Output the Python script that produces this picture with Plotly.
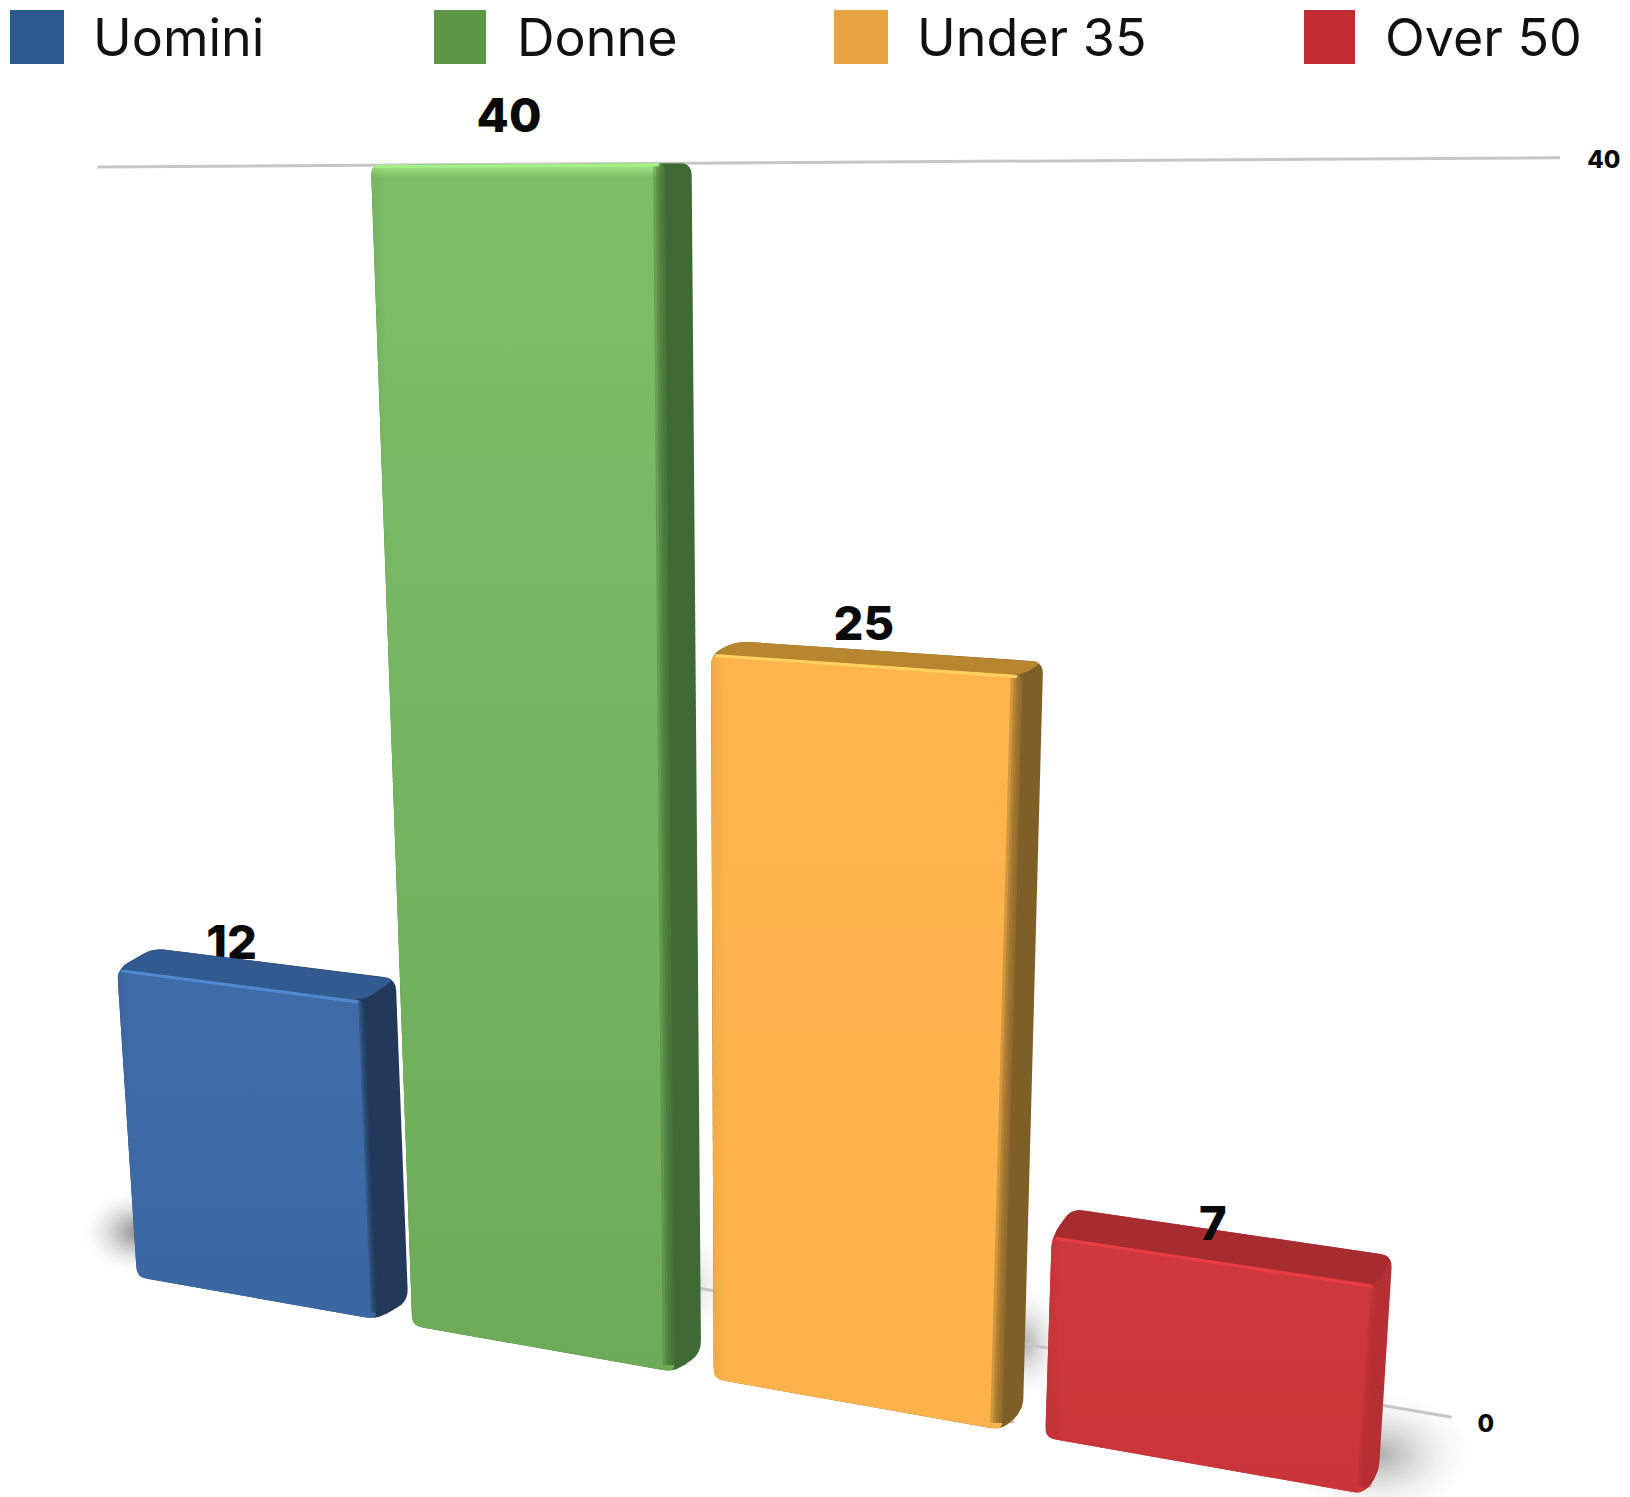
import numpy as np
import plotly.graph_objects as go

# ---- data ----
categories = ["Uomini", "Donne", "Under 35", "Over 50"]
values = [12, 40, 25, 7]
tick_values = [0, 40]
tick_labels = ["0", "40"]

# ---- style ----
legend_colors = ["#2d5a8e", "#5e9648", "#e7a33f", "#c02c30"]
front_top = ["#3f6ba8", "#7dbe66", "#feb54c", "#cf383c"]
front_bottom = ["#3b68a2", "#6dab59", "#fdb24a", "#c93538"]
top_colors = ["#305a90", "#8fd676", "#b8862e", "#a72c30"]
side_colors = ["#22395a", "#3f6a33", "#7f5f28", "#b52f33"]
high_colors = ["#4f88d0", "#a6f088", "#ffd25e", "#e83c40"]
flank_soft = [0.5, 1.0, 1.0, 0.6]
legend_x = [10, 434, 834, 1304]
legend_w = [54, 52, 54, 51]
legend_text_x = [91, 515, 915, 1383]
label_on_top = [False, True, True, True]
label_dx = [-9, -9, -3, -2]
label_dy = [-38, -44, -36, -33]

# ---- projection: value plane of the picture (slot position, value) -> page ----
VMAX = 40.0
PLANE = [(137, 1277), (1370, 1495), (1459.5, 158), (65.5, 167)]
SLOT = 0.257
BAR = 0.225
DEPTH_X, DEPTH_Y = 0.017, 0.026
VP = (2225, 161)


def make_h(q):
    (x0, y0), (x1, y1), (x2, y2), (x3, y3) = q
    dx1, dx2, sx = x1 - x2, x3 - x2, x0 - x1 + x2 - x3
    dy1, dy2, sy = y1 - y2, y3 - y2, y0 - y1 + y2 - y3
    den = dx1 * dy2 - dx2 * dy1
    g = (sx * dy2 - dx2 * sy) / den
    h = (dx1 * sy - sx * dy1) / den
    return (x1 - x0 + g * x1, x3 - x0 + h * x3, x0, y1 - y0 + g * y1, y3 - y0 + h * y3, y0, g, h)


H = make_h(PLANE)


def project(s, v, d=0.0):
    a, b, c, e, f, k, g, h = H
    t = v / VMAX
    w = 1 + g * s + h * t
    x = (a * s + b * t + c) / w
    y = (e * s + f * t + k) / w
    return (x + d * DEPTH_X * (VP[0] - x), y + d * DEPTH_Y * (VP[1] - y))


def rounded(pts, r=10, n=6):
    out = []
    m = len(pts)
    for i in range(m):
        p = np.array(pts[i], float)
        a = np.array(pts[i - 1], float)
        b = np.array(pts[(i + 1) % m], float)
        ra = min(r, np.linalg.norm(a - p) / 2)
        rb = min(r, np.linalg.norm(b - p) / 2)
        p0 = p + (a - p) / np.linalg.norm(a - p) * ra
        p1 = p + (b - p) / np.linalg.norm(b - p) * rb
        for u in np.linspace(0, 1, n):
            out.append(tuple((1 - u) ** 2 * p0 + 2 * u * (1 - u) * p + u ** 2 * p1))
    out.append(out[0])
    return out


def poly(pts, color=None, gradient=None):
    xs, ys = zip(*pts)
    kw = dict(fillgradient=gradient) if gradient else dict(fillcolor=color)
    return go.Scatter(x=list(xs), y=list(ys), mode="lines", fill="toself",
                      line=dict(width=0), hoverinfo="skip", showlegend=False, **kw)


def glow(cx, cy, rx, ry, alpha, steps=30):
    th = np.linspace(0, 2 * np.pi, 60)
    res = []
    for i in range(steps):
        f = 1 - i / steps
        a = alpha * (2 * i / steps + 0.05)
        res.append(go.Scatter(x=cx + rx * f * np.cos(th), y=cy + ry * f * np.sin(th), mode="lines",
                              fill="toself", fillcolor=f"rgba(0,0,0,{a:.4f})", line=dict(width=0),
                              hoverinfo="skip", showlegend=False))
    return res


def label(xy, text, size):
    return go.Scatter(x=[xy[0]], y=[xy[1]], mode="text", text=[text],
                      textposition="middle center",
                      textfont=dict(family="Inter", size=size, color="#0a0a0a", weight=800),
                      hoverinfo="skip", showlegend=False)


fig = go.Figure()

# ground shadows, anchored on the bars' feet
foot = project(0, 0)
for tr in glow(foot[0] + 2, foot[1] - 45, 60, 44, 0.017):
    fig.add_trace(tr)
foot = project(3 * SLOT + BAR, 0, 1)
for tr in glow(foot[0], foot[1] - 5, 100, 68, 0.011):
    fig.add_trace(tr)
for i, a in enumerate([0.004, 0.010]):
    foot = project((i + 2) * SLOT - 0.015, 0)
    for tr in glow(foot[0], foot[1] - 92, 46, 62, a):
        fig.add_trace(tr)

# gridlines on the back wall
GRID_DEPTH_X, GRID_DEPTH_Y = 2.05, 2.5
grid_span = {0: (0.25, 1.036), 40: (-0.04, 1.044)}
tick_offset = {0: (34, 9), 40: (44, 4)}


def back(s, v):
    return (project(s, v, GRID_DEPTH_X)[0], project(s, v, GRID_DEPTH_Y)[1])


for val, txt in zip(tick_values, tick_labels):
    s0, s1 = grid_span[val]
    a, b = back(s0, val), back(s1, val)
    fig.add_trace(go.Scatter(x=[a[0], b[0]], y=[a[1], b[1]], mode="lines",
                             line=dict(color="#c6c6c6", width=3), hoverinfo="skip", showlegend=False))
    dx, dy = tick_offset[val]
    fig.add_trace(label((b[0] + dx, b[1] + dy), txt, 24))


def bar_label(i, s0, s1, v):
    a, b = project(s0, v), project(s1, v)
    return label(((a[0] + b[0]) / 2 + label_dx[i], (a[1] + b[1]) / 2 + label_dy[i]), str(values[i]), 47)


for i, v in enumerate(values):
    s0, s1 = i * SLOT, i * SLOT + BAR
    BL, BR, TR, TL = project(s0, 0), project(s1, 0), project(s1, v), project(s0, v)
    bTL, bTR = project(s0, v, 1), project(s1, v, 1)
    bBR = (project(s1, 0, 1)[0], project(s1, 0, 0.6)[1])
    if not label_on_top[i]:
        fig.add_trace(bar_label(i, s0, s1, v))
    # silhouette, right flank, top
    fig.add_trace(poly(rounded([BL, BR, bBR, bTR, bTL, TL], 12), side_colors[i]))
    fig.add_trace(poly(rounded([TL, bTL, bTR, TR], 11), top_colors[i]))
    # front face: vertical light falloff, then a soft darkened left rim
    face = rounded([BL, BR, TR, TL], 9)
    ymin, ymax = min(TL[1], TR[1]), max(BL[1], BR[1])
    scale = [[0, front_top[i]], [1, front_bottom[i]]]
    if v == max(values):
        scale = [[0, high_colors[i]], [0.012, front_top[i]], [1, front_bottom[i]]]
    fig.add_trace(poly(face, gradient=dict(type="vertical", start=ymin, stop=ymax, colorscale=scale)))
    xmin, xmax = min(BL[0], TL[0]), max(BR[0], TR[0])
    fig.add_trace(poly(face, gradient=dict(
        type="horizontal", start=xmin, stop=xmax,
        colorscale=[[0, "rgba(0,0,0,0.06)"], [0.05, "rgba(0,0,0,0)"], [1, "rgba(0,0,0,0)"]])))
    # soft blend of the front face into the flank: stacked strokes along the shared edge
    ex = [TR[0], BR[0]]
    ey = [TR[1] + 1, BR[1] - 7]
    for w in (24, 18, 13, 8, 3):
        fig.add_trace(go.Scatter(x=ex, y=ey, mode="lines", opacity=0.33,
                                 line=dict(color=side_colors[i], width=w * flank_soft[i]),
                                 hoverinfo="skip", showlegend=False))
    # lit bevel along the top of the front face
    fig.add_trace(go.Scatter(x=[TL[0] + 4, TR[0] - 6], y=[TL[1] + 1.5, TR[1] + 1.5], mode="lines",
                             line=dict(color=high_colors[i], width=3), hoverinfo="skip", showlegend=False))
    if label_on_top[i]:
        fig.add_trace(bar_label(i, s0, s1, v))

shapes, annotations = [], []
for name, col, lx, lw, tx in zip(categories, legend_colors, legend_x, legend_w, legend_text_x):
    shapes.append(dict(type="rect", xref="x", yref="y", x0=lx, x1=lx + lw, y0=10, y1=64,
                       fillcolor=col, line=dict(width=0)))
    annotations.append(dict(xref="x", yref="y", x=tx, y=37, text=name, showarrow=False, xanchor="left",
                            yanchor="middle", font=dict(family="Inter", size=52, color="#111111")))

fig.update_layout(
    width=1630, height=1497, margin=dict(l=0, r=0, t=0, b=0),
    paper_bgcolor="white", plot_bgcolor="white", showlegend=False,
    xaxis=dict(range=[0, 1630], visible=False, fixedrange=True),
    yaxis=dict(range=[1497, 0], visible=False, fixedrange=True),
    shapes=shapes, annotations=annotations,
)
fig.write_html("out.html", post_script="document.body.style.margin='0';",
               config={"displayModeBar": False})
